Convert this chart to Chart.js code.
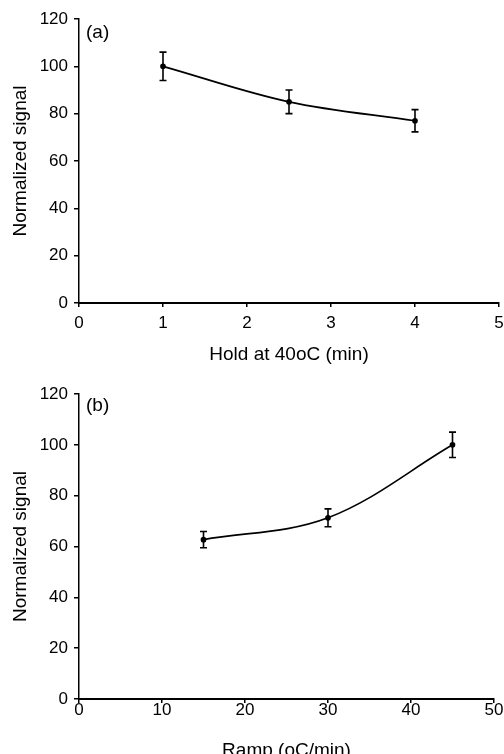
<!DOCTYPE html>
<html>
<head>
<meta charset="utf-8">
<script src="https://cdn.jsdelivr.net/npm/chart.js@4/dist/chart.umd.min.js"></script>
<style>
  html, body { margin: 0; padding: 0; background: #fff; overflow: hidden; }
  canvas { display: block; }
</style>
</head>
<body>
<canvas id="chartA" width="504" height="370"></canvas>
<canvas id="chartB" width="504" height="384"></canvas>
<script>
// panel (a)
const holdTimes = [1, 2.5, 4];
const holdSignal = [100, 85, 77];
const holdError = [6, 5, 4.7];
const holdTicks = [0, 1, 2, 3, 4, 5];

// panel (b)
const rampRates = [15, 30, 45];
const rampSignal = [62.7, 71.3, 100];
const rampError = [3.2, 3.5, 5];
const rampTicks = [0, 10, 20, 30, 40, 50];

const signalTicks = [0, 20, 40, 60, 80, 100, 120];

const FONT = "'Liberation Sans', Arial, sans-serif";

// draws the vertical error bars with caps
const errorBars = {
	id: "errorBars",
	afterDatasetsDraw(chart, args, opts) {
		const { ctx, scales } = chart;
		ctx.save();
		ctx.strokeStyle = "#000";
		ctx.lineWidth = 1.6;
		opts.xs.forEach((xv, i) => {
			const x = scales.x.getPixelForValue(xv);
			const yTop = scales.y.getPixelForValue(opts.ys[i] + opts.errs[i]);
			const yBot = scales.y.getPixelForValue(opts.ys[i] - opts.errs[i]);
			ctx.beginPath();
			ctx.moveTo(x, yTop);
			ctx.lineTo(x, yBot);
			ctx.moveTo(x - 3.5, yTop);
			ctx.lineTo(x + 3.5, yTop);
			ctx.moveTo(x - 3.5, yBot);
			ctx.lineTo(x + 3.5, yBot);
			ctx.stroke();
		});
		ctx.restore();
	},
};

// panel letter inside the plot
const panelLabel = {
	id: "panelLabel",
	afterDraw(chart, args, opts) {
		const { ctx, chartArea } = chart;
		ctx.save();
		ctx.fillStyle = "#000";
		ctx.font = "19px " + FONT;
		ctx.textBaseline = "middle";
		ctx.textAlign = "left";
		ctx.fillText(opts.text, chartArea.left + 7, chartArea.top + opts.dy);
		ctx.restore();
	},
};

function makeChart(id, cfg) {
	const points = cfg.xs.map((x, i) => ({ x: x, y: cfg.ys[i] }));
	return new Chart(document.getElementById(id), {
		type: "line",
		data: {
			datasets: [
				{
					data: points,
					borderColor: "#000",
					backgroundColor: "#000",
					borderWidth: 1.7,
					pointRadius: 2,
					pointHoverRadius: 2,
					tension: 0.35,
					fill: false,
				},
			],
		},
		plugins: [errorBars, panelLabel],
		options: {
			responsive: false,
			animation: false,
			devicePixelRatio: 1,
			layout: { padding: { left: 0, top: cfg.top, right: cfg.right, bottom: 0 } },
			plugins: {
				legend: { display: false },
				tooltip: { enabled: false },
				errorBars: { xs: cfg.xs, ys: cfg.ys, errs: cfg.errs },
				panelLabel: { text: cfg.label, dy: cfg.labelDy },
			},
			scales: {
				x: {
					type: "linear",
					min: cfg.xTicks[0],
					max: cfg.xTicks[cfg.xTicks.length - 1],
					afterBuildTicks: (s) => { s.ticks = cfg.xTicks.map((v) => ({ value: v })); },
					afterFit: (s) => {
						s.height = cfg.xHeight;
						s.paddingLeft = 0;
						s.paddingRight = cfg.right;
					},
					grid: { display: true, drawOnChartArea: false, drawTicks: true, tickLength: 4, color: "#000", lineWidth: 1.5 },
					border: { display: true, color: "#000", width: 2 },
					ticks: { color: "#000", padding: cfg.xTickPad, font: { family: FONT, size: 17, lineHeight: 1 }, maxRotation: 0 },
					title: { display: true, text: cfg.xTitle, color: "#000", font: { family: FONT, size: 19, lineHeight: 1 }, padding: { top: 0, bottom: cfg.xTitlePad } },
				},
				y: {
					min: 0,
					max: 120,
					afterBuildTicks: (s) => { s.ticks = signalTicks.map((v) => ({ value: v })); },
					afterFit: (s) => { s.width = 79; },
					grid: { display: true, drawOnChartArea: false, drawTicks: true, tickLength: 5, color: "#000", lineWidth: 1.5 },
					border: { display: true, color: "#000", width: 1.5 },
					ticks: { color: "#000", padding: 6, font: { family: FONT, size: 17 } },
					title: { display: true, text: "Normalized signal", color: "#000", font: { family: FONT, size: 19 }, padding: { top: 9, bottom: 0 } },
				},
			},
		},
	});
}

makeChart("chartA", {
	xs: holdTimes, ys: holdSignal, errs: holdError, xTicks: holdTicks,
	xTitle: "Hold at 40oC (min)", label: "(a)", labelDy: 14,
	top: 19, right: 5, xHeight: 67, xTickPad: 8, xTitlePad: 5.5,
});

makeChart("chartB", {
	xs: rampRates, ys: rampSignal, errs: rampError, xTicks: rampTicks,
	xTitle: "Ramp (oC/min)", label: "(b)", labelDy: 12,
	top: 24, right: 10, xHeight: 55, xTickPad: -1, xTitlePad: -6.5,
});
</script>
</body>
</html>
